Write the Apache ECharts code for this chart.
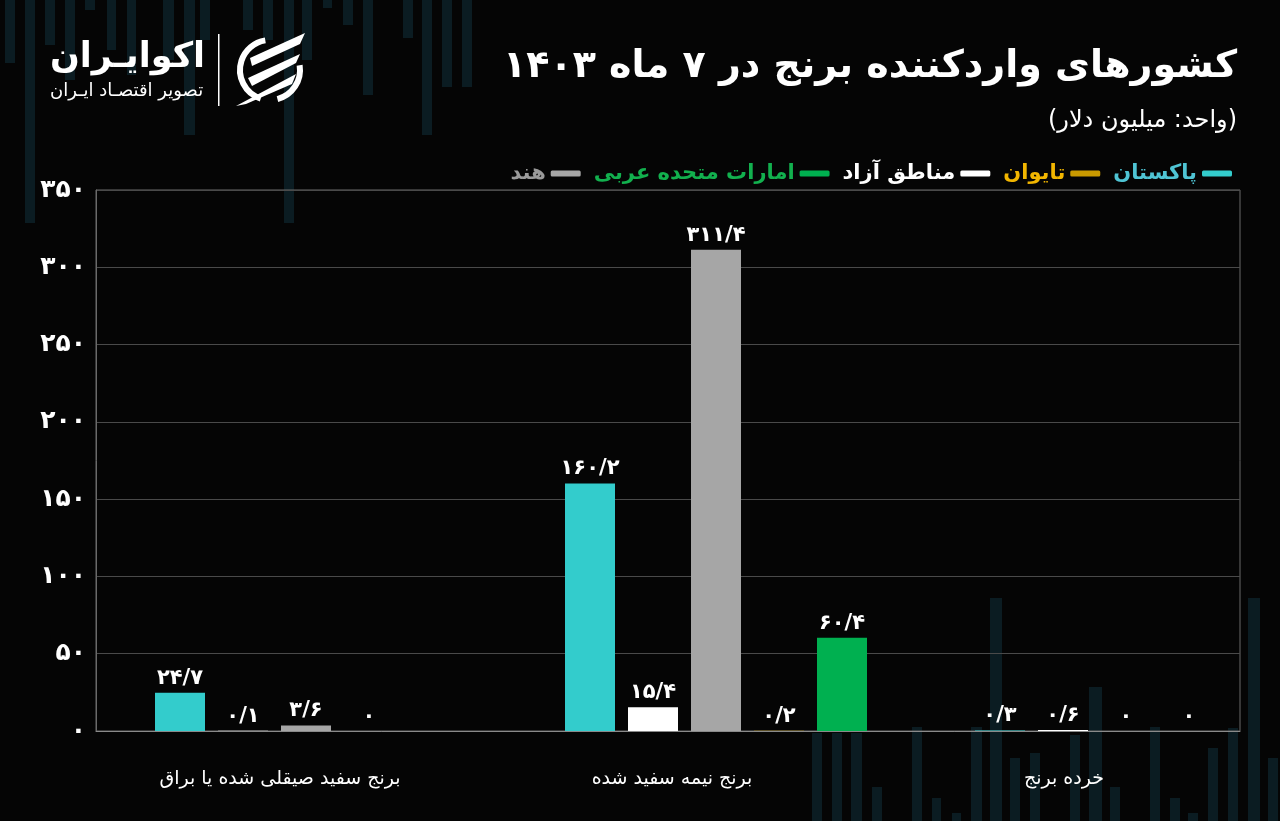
<!DOCTYPE html>
<html>
<head>
<meta charset="utf-8">
<script src="https://cdn.jsdelivr.net/npm/echarts@6/dist/echarts.min.js"></script>
<style>
html,body{margin:0;padding:0;background:#050505;overflow:hidden;width:1280px;height:821px;}
#chart{width:1340px;height:821px;}
</style>
</head>
<body>
<div id="chart"></div>
<script>
// ---- data ----
const categories = ['برنج سفید صیقلی شده یا براق', 'برنج نیمه سفید شده', 'خرده برنج'];
const seriesNames = ['پاکستان', 'مناطق آزاد', 'هند', 'تایوان', 'امارات متحده عربی'];
const pakistan = [24.7, 160.2, 0.3];
const freeZones = [0.1, 15.4, 0.6];
const india = [3.6, 311.4, 0];
const taiwan = [0, 0.2, 0];
const uae = [null, 60.4, null];
const yTicks = [0, 50, 100, 150, 200, 250, 300, 350];
const legendOrder = ['هند', 'امارات متحده عربی', 'مناطق آزاد', 'تایوان', 'پاکستان'];

const titleText = 'کشورهای واردکننده برنج در ۷ ماه ۱۴۰۳';
const subtitleText = '(واحد: میلیون دلار)';

// ---- helpers ----
const faDigits = '۰۱۲۳۴۵۶۷۸۹';
function toFa(v) {
  return String(v).replace(/[0-9]/g, d => faDigits[+d]).replace('.', '/');
}
const colors = {
  'پاکستان': '#33cccc',
  'مناطق آزاد': '#ffffff',
  'هند': '#a6a6a6',
  'تایوان': '#c99a00',
  'امارات متحده عربی': '#00b050'
};
const legendTextColors = {
  'پاکستان': '#4fc4d4',
  'مناطق آزاد': '#ffffff',
  'هند': '#9a9a9a',
  'تایوان': '#f2b600',
  'امارات متحده عربی': '#12b04e'
};
const seriesData = [pakistan, freeZones, india, taiwan, uae];
const FONT = '"DejaVu Sans", "Noto Sans", sans-serif';
const CW = 1340; // canvas width (wider than the 1280 viewport; right part is cut off)
const R = CW - 1237; // right offset that lands on x=1237 in the viewport

// ---- decorative background bars ----
const deco = [
  [5,0,10,63],[25,0,10,223],[45,0,10,45],[65,0,10,80],[85,0,10,10],[107,0,9,50],[127,0,9,75],
  [163,0,11,60],[184,0,11,135],[200,0,10,40],[243,0,10,30],[263,0,10,40],[284,0,10,223],[302,0,10,60],
  [323,0,9,8],[343,0,10,25],[363,0,10,95],[403,0,10,38],[422,0,10,135],[442,0,10,87],[462,0,10,87],
  [812,733,10,88],[832,733,10,88],[851,733,11,88],[872,787,10,34],[912,727,10,94],[932,798,9,23],
  [952,813,9,8],[971,727,11,94],[990,598,12,223],[1010,758,10,63],[1030,753,10,68],[1070,735,10,86],
  [1089,687,13,134],[1110,787,10,34],[1150,727,10,94],[1170,798,10,23],[1188,813,10,8],[1208,748,10,73],
  [1228,728,10,93],[1248,598,12,223],[1268,758,10,63]
];
const graphics = deco.map(d => ({
  type: 'rect', z: -10, silent: true,
  shape: { x: d[0], y: d[1], width: d[2], height: d[3] },
  style: { fill: 'rgba(16,48,58,0.55)' }
}));

// logo
graphics.push(
  { type: 'text', left: 50, top: 40, z: 5,
    style: { text: 'اکوایـران', font: 'bold 35px ' + FONT, fill: '#ffffff' } },
  { type: 'text', left: 50, top: 82, z: 5,
    style: { text: 'تصویر اقتصـاد ایـران', font: '18px ' + FONT, fill: '#ffffff' } },
  { type: 'rect', z: 5, shape: { x: 218, y: 34, width: 1.5, height: 72 }, style: { fill: '#ffffff' } },
  { type: 'arc', z: 5, shape: { cx: 270, cy: 70, r: 30, startAngle: Math.PI * 0.6, endAngle: Math.PI * 1.45 },
    style: { stroke: '#ffffff', lineWidth: 6, fill: null } },
  { type: 'arc', z: 5, shape: { cx: 270, cy: 70, r: 30, startAngle: -Math.PI * 0.05, endAngle: Math.PI * 0.42 },
    style: { stroke: '#ffffff', lineWidth: 6, fill: null } },
  { type: 'polygon', z: 5, shape: { points: [[250,58],[305,33],[300,44],[252,66]] }, style: { fill: '#ffffff' } },
  { type: 'polygon', z: 5, shape: { points: [[248,78],[300,54],[296,63],[252,86]] }, style: { fill: '#ffffff' } },
  { type: 'polygon', z: 5, shape: { points: [[236,106],[296,74],[292,84],[246,104]] }, style: { fill: '#ffffff' } }
);
// title & subtitle
graphics.push(
  { type: 'text', right: R, top: 48, z: 5,
    style: { text: titleText, font: 'bold 38px ' + FONT, fill: '#ffffff' } },
  { type: 'text', right: R, top: 109, z: 5,
    style: { text: subtitleText, font: '24px ' + FONT, fill: '#ffffff' } }
);

const chart = echarts.init(document.getElementById('chart'), null, { renderer: 'canvas', width: CW, height: 821 });

const option = {
  backgroundColor: '#050505',
  animation: false,
  textStyle: { fontFamily: FONT },
  graphic: graphics,
  legend: {
    right: R, top: 158,
    align: 'right',
    itemWidth: 30, itemHeight: 6, itemGap: 13,
    icon: 'roundRect',
    data: legendOrder.map(n => ({ name: n, textStyle: { color: legendTextColors[n] } })),
    textStyle: { fontSize: 21, fontWeight: 'bold', fontFamily: FONT }
  },
  grid: [
    { left: 96, right: CW - 1240, top: 190, bottom: 90, show: true, borderColor: '#6a6a6a', borderWidth: 1, backgroundColor: 'transparent' },
    { left: 101, width: 1230, top: 190, bottom: 90 },
    { left: 84, width: 1176, top: 190, bottom: 90 }
  ],
  xAxis: [
    { gridIndex: 0, type: 'category', data: categories,
      axisLine: { show: true, lineStyle: { color: '#8a8a8a' } }, axisTick: { show: false }, axisLabel: { show: false } },
    { gridIndex: 1, type: 'category', data: categories, show: false },
    { gridIndex: 2, type: 'category', data: categories,
      axisLine: { show: false }, axisTick: { show: false },
      axisLabel: { color: '#ffffff', fontSize: 19, margin: 39, fontFamily: FONT } }
  ],
  yAxis: [
    { gridIndex: 0, type: 'value', min: 0, max: 350, interval: 50,
      axisLine: { show: true, lineStyle: { color: '#6a6a6a' } }, axisTick: { show: false },
      splitLine: { lineStyle: { color: '#4a4a4a' } },
      axisLabel: { color: '#ffffff', fontSize: 25, fontWeight: 'bold', margin: 10,
        formatter: v => yTicks.indexOf(v) >= 0 ? toFa(v) : '' } },
    { gridIndex: 1, type: 'value', min: 0, max: 350, show: false },
    { gridIndex: 2, type: 'value', min: 0, max: 350, show: false }
  ],
  series: seriesNames.map((name, i) => ({
    name: name,
    type: 'bar',
    xAxisIndex: 1, yAxisIndex: 1,
    data: seriesData[i],
    barWidth: 50,
    barGap: '26%',
    itemStyle: { color: colors[name] },
    label: {
      show: true, position: 'top', distance: 4,
      color: '#ffffff', fontSize: 21, fontWeight: 'bold', fontFamily: FONT,
      formatter: p => (p.value === null || p.value === undefined) ? '' : toFa(p.value)
    }
  }))
};
chart.setOption(option);
</script>
</body>
</html>
